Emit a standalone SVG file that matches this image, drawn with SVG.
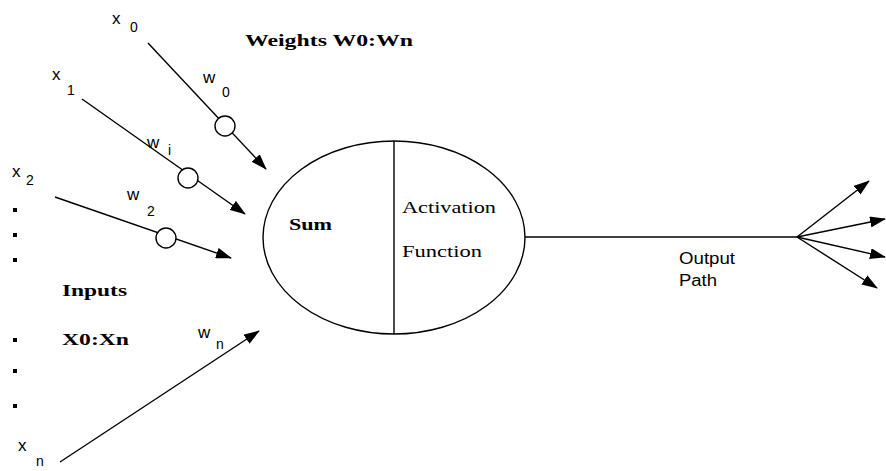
<svg xmlns="http://www.w3.org/2000/svg" width="886" height="471" viewBox="0 0 886 471">
<defs>
<marker id="ah" viewBox="0 0 16 11" refX="15" refY="5.5" markerWidth="16" markerHeight="11" markerUnits="userSpaceOnUse" orient="auto">
<path d="M0,0 L16,5.5 L0,11 z" fill="#000"/>
</marker>
<style>
.ln{stroke:#000;stroke-width:1.4;fill:none}
.arr{stroke:#000;stroke-width:1.4;fill:none;marker-end:url(#ah)}
.wc{stroke:#000;stroke-width:1.4;fill:#fff}
.lab{font-family:"Liberation Sans",Arial,sans-serif;font-size:17px;fill:#000}
.sub{font-family:"Liberation Sans",Arial,sans-serif;font-size:14px;fill:#000}
.bold{font-family:"Liberation Serif","Times New Roman",serif;font-size:16px;font-weight:bold;fill:#000}
.ser{font-family:"Liberation Serif","Times New Roman",serif;font-size:17px;fill:#000}
.out{font-family:"Liberation Sans",Arial,sans-serif;font-size:16px;fill:#000}
.dot{fill:#000}
</style>
</defs>
<rect width="886" height="471" fill="#fff"/>
<g id="connectors">
<line class="arr" x1="148" y1="43" x2="266" y2="169"/>
<line class="arr" x1="82" y1="99" x2="245" y2="214"/>
<line class="arr" x1="55" y1="197" x2="231" y2="258"/>
<line class="arr" x1="60" y1="462" x2="259" y2="331"/>
<line class="ln" x1="525" y1="237" x2="797" y2="237"/>
<line class="arr" x1="797" y1="237" x2="869" y2="181"/>
<line class="arr" x1="797" y1="237" x2="885" y2="219"/>
<line class="arr" x1="797" y1="237" x2="885" y2="257"/>
<line class="arr" x1="797" y1="237" x2="877" y2="288"/>
</g>
<g id="weight0"><circle class="wc" cx="225" cy="126" r="10"/></g>
<g id="weight1"><circle class="wc" cx="188" cy="178" r="10"/></g>
<g id="weight2"><circle class="wc" cx="166" cy="238" r="10"/></g>
<g id="neuron">
<ellipse class="ln" cx="394" cy="237.5" rx="131" ry="96.5"/>
<line class="ln" x1="394" y1="141" x2="394" y2="334"/>
<text class="bold" x="289" y="230" textLength="43" lengthAdjust="spacingAndGlyphs">Sum</text>
<text class="ser" x="402" y="213" textLength="94" lengthAdjust="spacingAndGlyphs">Activation</text>
<text class="ser" x="402" y="257" textLength="80" lengthAdjust="spacingAndGlyphs">Function</text>
</g>
<g id="labels">
<text class="lab" x="112" y="24">x</text><text class="sub" x="130" y="32">0</text>
<text class="lab" x="52" y="80">x</text><text class="sub" x="67" y="95">1</text>
<text class="lab" x="12" y="177">x</text><text class="sub" x="26" y="185">2</text>
<text class="lab" x="18" y="451">x</text><text class="sub" x="36" y="466">n</text>
<text class="lab" x="203" y="83">w</text><text class="sub" x="222" y="97">0</text>
<text class="lab" x="147" y="148">w</text><text class="sub" x="168" y="155">i</text>
<text class="lab" x="127" y="200">w</text><text class="sub" x="147" y="216">2</text>
<text class="lab" x="198" y="338">w</text><text class="sub" x="216" y="349">n</text>
<text class="bold" x="245" y="46" textLength="168" lengthAdjust="spacingAndGlyphs">Weights W0:Wn</text>
<text class="bold" x="62" y="296" textLength="65" lengthAdjust="spacingAndGlyphs">Inputs</text>
<text class="bold" x="62" y="345" textLength="67" lengthAdjust="spacingAndGlyphs">X0:Xn</text>
<text class="out" x="679" y="264" textLength="56" lengthAdjust="spacingAndGlyphs">Output</text>
<text class="out" x="679" y="286" textLength="38" lengthAdjust="spacingAndGlyphs">Path</text>
</g>
<g id="dots">
<rect class="dot" x="13" y="208" width="4" height="4"/>
<rect class="dot" x="13" y="233" width="4" height="4"/>
<rect class="dot" x="13" y="258" width="4" height="4"/>
<rect class="dot" x="13" y="338" width="4" height="4"/>
<rect class="dot" x="13" y="369" width="4" height="4"/>
<rect class="dot" x="13" y="404" width="4" height="4"/>
</g>
</svg>
